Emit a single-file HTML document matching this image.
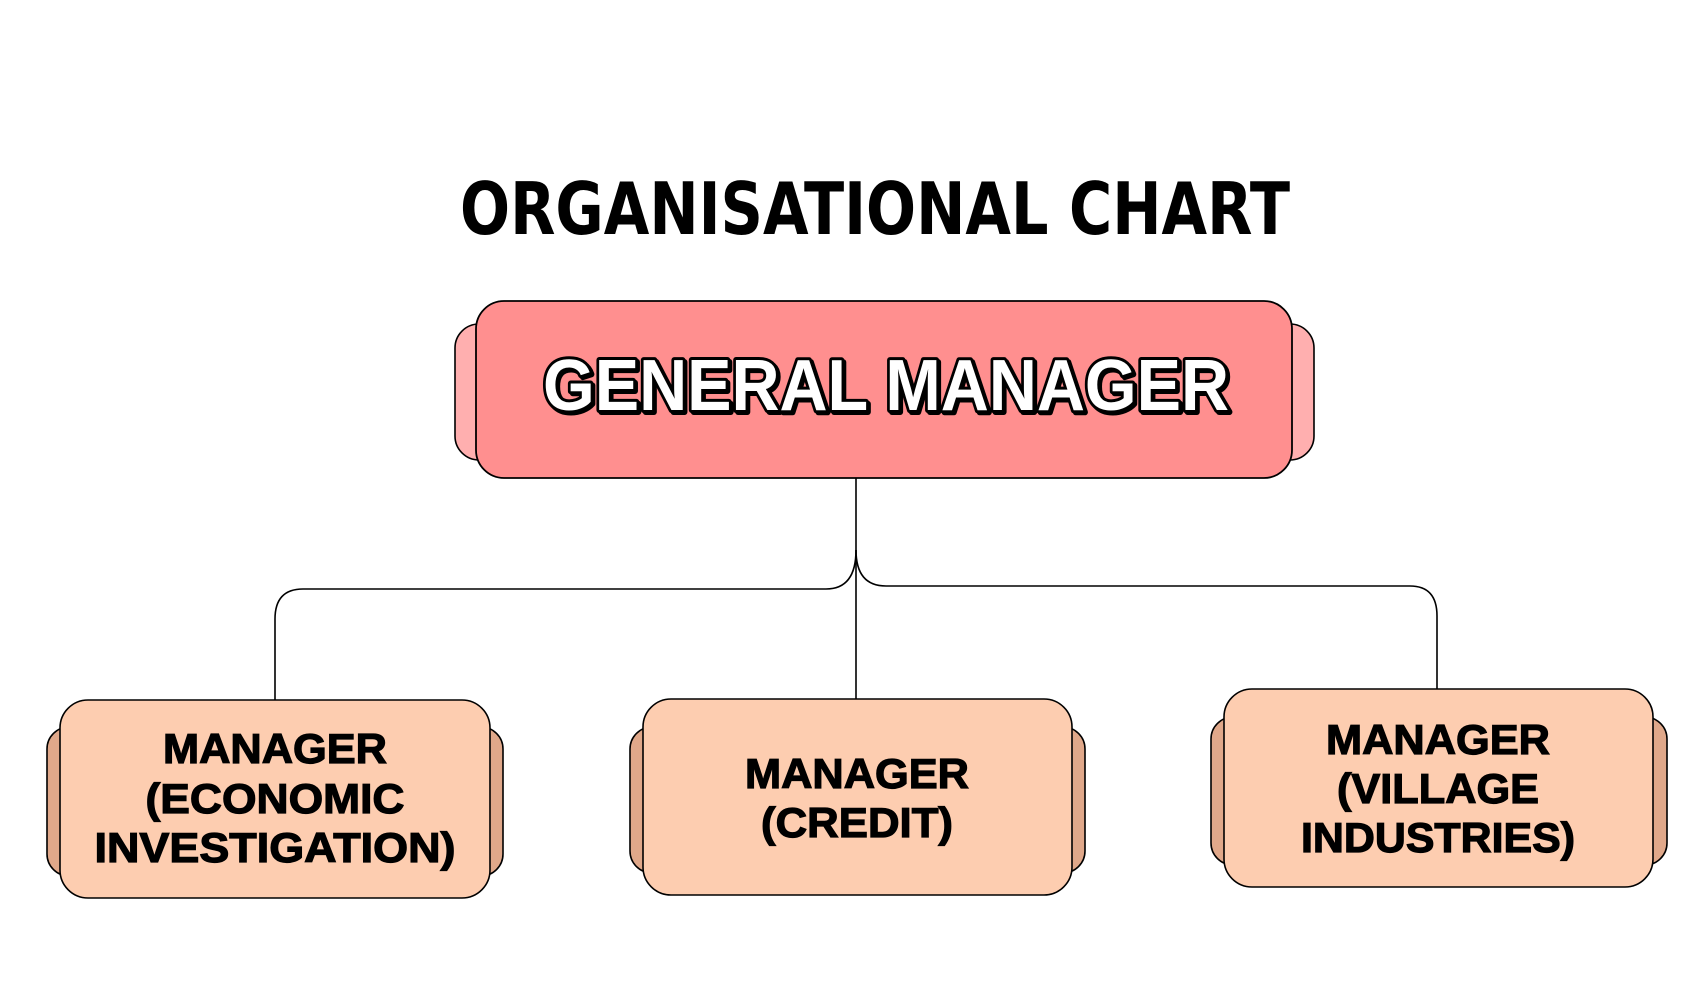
<!DOCTYPE html>
<html><head><meta charset="utf-8"><style>html,body{margin:0;padding:0;background:#fff}svg{display:block}</style></head>
<body>
<svg width="1686" height="1007" viewBox="0 0 1686 1007" xmlns="http://www.w3.org/2000/svg">
<rect width="1686" height="1007" fill="#fff"/>
<text x="875" y="234" text-anchor="middle" font-family="DejaVu Sans, Liberation Sans, sans-serif" font-weight="bold" font-size="72" textLength="830" lengthAdjust="spacingAndGlyphs" fill="#000">ORGANISATIONAL CHART</text>

<g fill="none" stroke="#000" stroke-width="1.6">
<path d="M856 478 V699"/>
<path d="M856 550 Q856 589 826 589 H303 Q275 589 275 619 V700"/>
<path d="M856 550 Q856 586 886 586 H1410 Q1437 586 1437 616 V689"/>
</g>

<rect x="455" y="324" width="859" height="136" rx="24" fill="#FFAFAF" stroke="#000" stroke-width="1.6"/>
<rect x="476" y="301" width="816" height="177" rx="28" fill="#FF8F8F" stroke="#000" stroke-width="1.8"/>
<text x="888" y="412" text-anchor="middle" font-family="Liberation Sans, sans-serif" font-weight="bold" font-size="72" textLength="686" lengthAdjust="spacingAndGlyphs" fill="#8a2020" stroke="#000" stroke-width="6" stroke-linejoin="round">GENERAL MANAGER</text>
<text x="886" y="410" text-anchor="middle" font-family="Liberation Sans, sans-serif" font-weight="bold" font-size="72" textLength="686" lengthAdjust="spacingAndGlyphs" fill="#000" stroke="#000" stroke-width="6" stroke-linejoin="round">GENERAL MANAGER</text>
<text x="886" y="410" text-anchor="middle" font-family="Liberation Sans, sans-serif" font-weight="bold" font-size="72" textLength="686" lengthAdjust="spacingAndGlyphs" fill="#fff">GENERAL MANAGER</text>

<g stroke="#000" stroke-width="1.6">
<rect x="47" y="727" width="456" height="149" rx="22" fill="#E0A88A"/>
<rect x="60" y="700" width="430" height="198" rx="28" fill="#FDCDB0"/>
<rect x="630" y="727" width="455" height="146" rx="22" fill="#E0A88A"/>
<rect x="643" y="699" width="429" height="196" rx="28" fill="#FDCDB0"/>
<rect x="1211" y="717" width="456" height="148" rx="22" fill="#E0A88A"/>
<rect x="1224" y="689" width="429" height="198" rx="28" fill="#FDCDB0"/>
</g>
<g font-family="Liberation Sans, sans-serif" font-weight="bold" font-size="42" text-anchor="middle" fill="#000" stroke="#000" stroke-width="1.2">
<text x="275" y="763" textLength="224" lengthAdjust="spacingAndGlyphs">MANAGER</text>
<text x="275" y="813" textLength="259" lengthAdjust="spacingAndGlyphs">(ECONOMIC</text>
<text x="275" y="862" textLength="361" lengthAdjust="spacingAndGlyphs">INVESTIGATION)</text>
<text x="857" y="788" textLength="224" lengthAdjust="spacingAndGlyphs">MANAGER</text>
<text x="857" y="837" textLength="192" lengthAdjust="spacingAndGlyphs">(CREDIT)</text>
<text x="1438" y="754" textLength="224" lengthAdjust="spacingAndGlyphs">MANAGER</text>
<text x="1438" y="803" textLength="202" lengthAdjust="spacingAndGlyphs">(VILLAGE</text>
<text x="1438" y="852" textLength="274" lengthAdjust="spacingAndGlyphs">INDUSTRIES)</text>
</g>
</svg>
</body></html>
